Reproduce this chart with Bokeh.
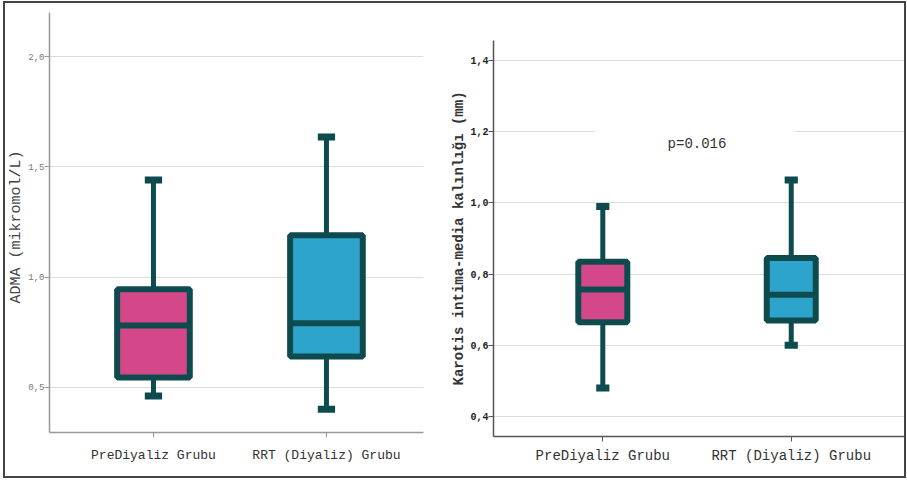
from bokeh.plotting import figure
from bokeh.layouts import row, column
from bokeh.models import FixedTicker, Label, BoxAnnotation
from bokeh.embed import file_html
from bokeh.resources import INLINE

groups = ["PreDiyaliz Grubu", "RRT (Diyaliz) Grubu"]
xpos = [1, 2]
colors = ["#D4488A", "#2DA4CB"]
edge = "#0E4B4F"

# ADMA (mikromol/L)
adma_low = [0.46, 0.40]
adma_q1 = [0.545, 0.64]
adma_med = [0.78, 0.79]
adma_q3 = [0.945, 1.19]
adma_high = [1.44, 1.635]
adma_ticks = [0.5, 1.0, 1.5, 2.0]
adma_tick_labels = ["0,5", "1,0", "1,5", "2,0"]

# Karotis intima-media kalınlığı (mm)
imt_low = [0.48, 0.60]
imt_q1 = [0.665, 0.67]
imt_med = [0.757, 0.742]
imt_q3 = [0.835, 0.845]
imt_high = [0.99, 1.064]
imt_ticks = [0.4, 0.6, 0.8, 1.0, 1.2, 1.4]
imt_tick_labels = ["0,4", "0,6", "0,8", "1,0", "1,2", "1,4"]
p_text = "p=0.016"

MONO = "Liberation Mono"


def make_panel(width, height, xr, yr, borders, low, q1, med, q3, high,
               box_w, cap_w, ticks, tick_labels, ylabel, tick_style, ylabel_style,
               xlabel_style, axis_color):
    p = figure(width=width, height=height, x_range=xr, y_range=yr,
               output_backend="svg", toolbar_location=None,
               min_border_left=borders[0], min_border_right=borders[1],
               min_border_top=borders[2], min_border_bottom=borders[3])
    p.outline_line_color = None
    p.background_fill_color = "white"
    p.border_fill_color = "white"
    p.xgrid.grid_line_color = None
    p.ygrid.grid_line_color = "#dcdcdc"
    p.ygrid.grid_line_width = 1
    p.yaxis.ticker = FixedTicker(ticks=ticks)
    p.yaxis.major_label_overrides = {t: l for t, l in zip(ticks, tick_labels)}
    p.xaxis.ticker = FixedTicker(ticks=xpos)
    p.xaxis.major_label_overrides = {x: g for x, g in zip(xpos, groups)}
    for ax in (p.xaxis, p.yaxis):
        ax.axis_line_color = axis_color
        ax.axis_line_width = 1.5
        ax.major_tick_line_color = axis_color
        ax.major_tick_out = 5
        ax.major_tick_in = 0
        ax.minor_tick_line_color = None
    p.xaxis.major_label_text_font = MONO
    p.xaxis.major_label_text_font_size = xlabel_style[0]
    p.xaxis.major_label_text_color = "#333333"
    p.xaxis.major_label_standoff = xlabel_style[1]
    p.yaxis.major_label_text_font = MONO
    p.yaxis.major_label_text_font_size = tick_style[0]
    p.yaxis.major_label_text_color = tick_style[1]
    p.yaxis.major_label_text_font_style = tick_style[2]
    p.yaxis.major_label_standoff = 0
    p.yaxis.axis_label = ylabel
    p.yaxis.axis_label_text_font = MONO
    p.yaxis.axis_label_text_font_size = ylabel_style[0]
    p.yaxis.axis_label_text_color = ylabel_style[1]
    p.yaxis.axis_label_text_font_style = ylabel_style[2]
    p.yaxis.axis_label_standoff = ylabel_style[3]

    # whiskers
    p.segment(x0=xpos, y0=q3, x1=xpos, y1=high, line_color=edge, line_width=5)
    p.segment(x0=xpos, y0=low, x1=xpos, y1=q1, line_color=edge, line_width=5)
    # caps
    xl = [x - cap_w / 2 for x in xpos]
    xr_ = [x + cap_w / 2 for x in xpos]
    p.segment(x0=xl, y0=high, x1=xr_, y1=high, line_color=edge, line_width=7)
    p.segment(x0=xl, y0=low, x1=xr_, y1=low, line_color=edge, line_width=7)
    # boxes
    p.vbar(x=xpos, width=box_w, bottom=q1, top=q3, fill_color=colors,
           line_color=edge, line_width=6)
    # medians
    bl = [x - box_w / 2 for x in xpos]
    br = [x + box_w / 2 for x in xpos]
    p.segment(x0=bl, y0=med, x1=br, y1=med, line_color=edge, line_width=6)
    return p


H = 473
p1 = make_panel(443, H, (0.399, 2.561), (0.295, 2.2), (42, 25, 9, 44),
                adma_low, adma_q1, adma_med, adma_q3, adma_high,
                0.42, 0.1, adma_ticks, adma_tick_labels,
                "ADMA  (mikromol/L)", ("9px", "#777777", "normal"),
                ("15px", "#444444", "normal", 0), ("13px", 10), "#999999")

p2 = make_panel(456, H, (0.42, 2.601), (0.344, 1.456), (41, 0, 37, 40),
                imt_low, imt_q1, imt_med, imt_q3, imt_high,
                0.26, 0.07, imt_ticks, imt_tick_labels,
                "Karotis intima-media kalınlığı (mm)", ("10px", "#222222", "bold"),
                ("14px", "#333333", "bold", 0), ("14px", 6), "#555555")

gap = BoxAnnotation(left=0.957, right=2.021, bottom=1.19, top=1.21,
                    fill_color="white", fill_alpha=1, line_alpha=0, level="underlay")
p2.add_layout(gap)
p2.add_layout(Label(x=1.5, y=1.165, text=p_text, text_align="center",
                    text_baseline="middle", text_font=MONO,
                    text_font_size="14px", text_color="#333333"))

layout = row(column(p1), column(p2),
             styles={"border": "2px solid #444444", "margin-left": "3px",
                     "margin-top": "1px"})

open("out.html", "w").write(file_html(layout, INLINE))
